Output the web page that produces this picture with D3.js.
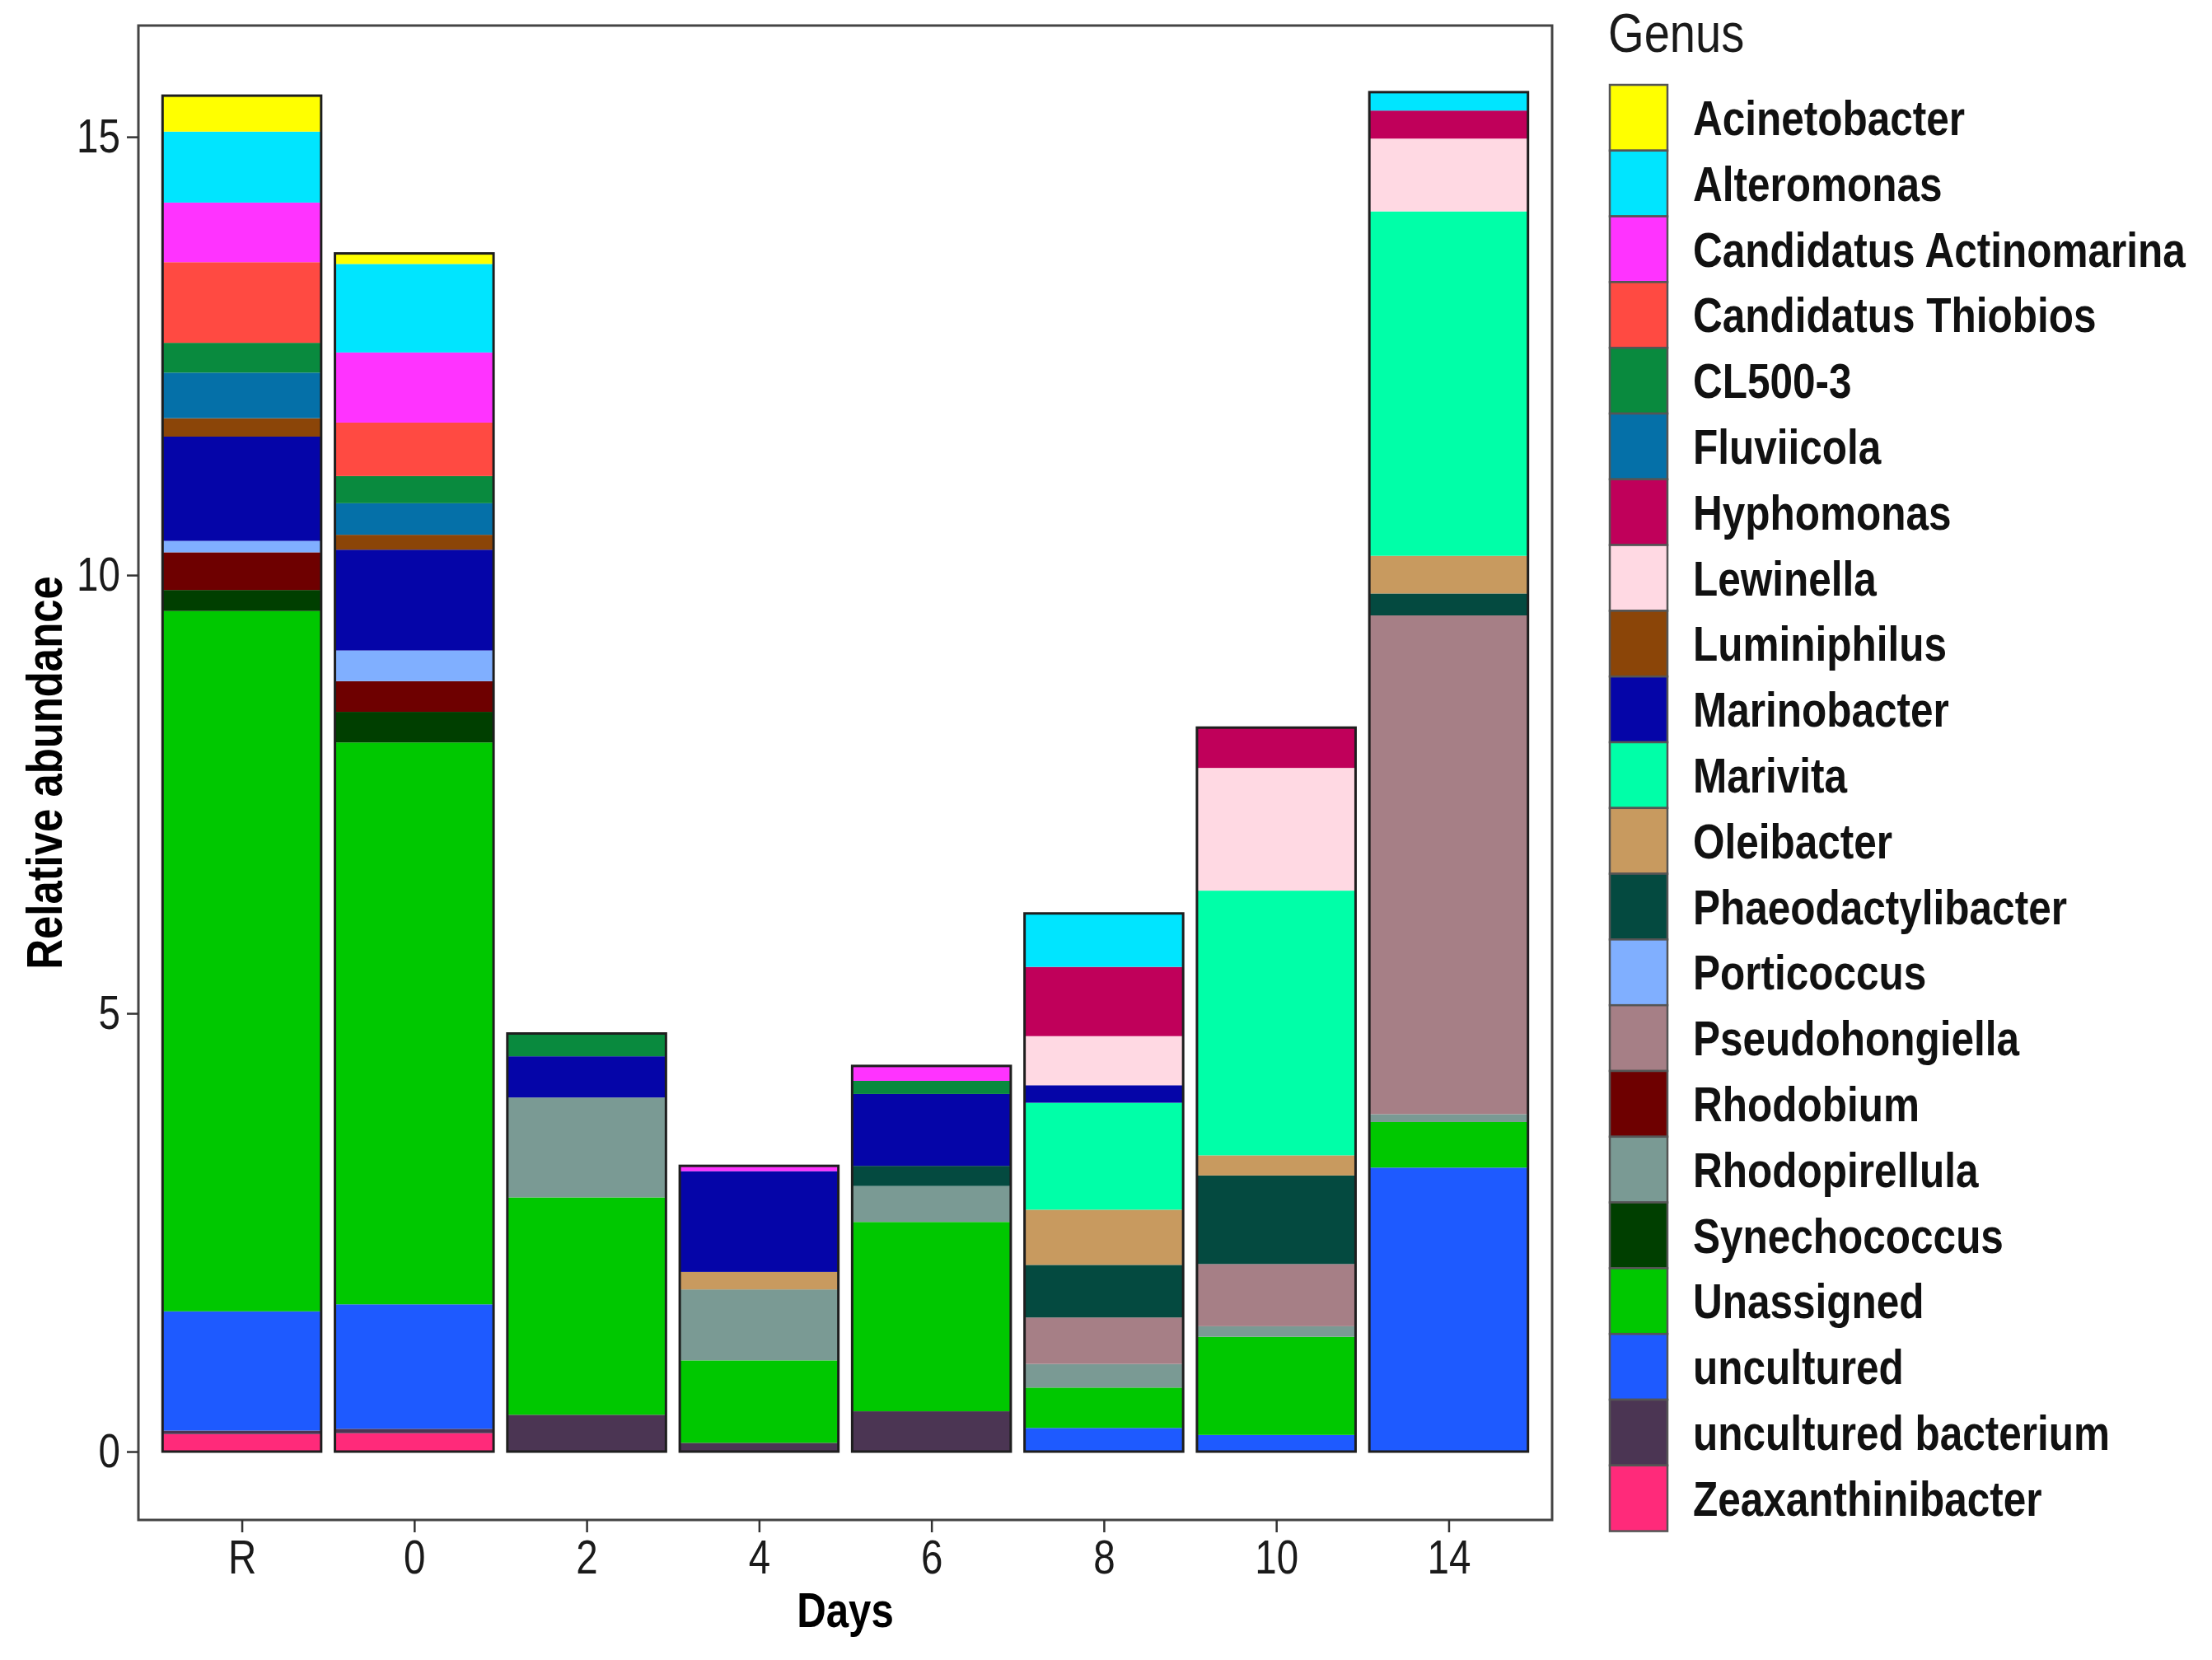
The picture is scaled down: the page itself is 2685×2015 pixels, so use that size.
<!DOCTYPE html>
<html><head><meta charset="utf-8">
<script src="https://cdn.jsdelivr.net/npm/d3@7"></script>
<style>html,body{margin:0;padding:0;background:#fff;} svg{display:block;}</style>
</head><body>
<svg id="chart" width="2685" height="2015"></svg>
<script>
// ---------- data ----------
const days = ["R","0","2","4","6","8","10","14"];
const genera = ["Acinetobacter","Alteromonas","Candidatus Actinomarina","Candidatus Thiobios","CL500-3","Fluviicola","Hyphomonas","Lewinella","Luminiphilus","Marinobacter","Marivita","Oleibacter","Phaeodactylibacter","Porticoccus","Pseudohongiella","Rhodobium","Rhodopirellula","Synechococcus","Unassigned","uncultured","uncultured bacterium","Zeaxanthinibacter"];
const colors = ["#FFFF00","#00E5FF","#FF33FF","#FF4A42","#098A3E","#0570A8","#C0005A","#FFD9E3","#8B4508","#0505A8","#00FFA8","#C89A5F","#044A40","#80AFFF","#A67F86","#6E0000","#7A9A94","#003F00","#00C800","#1E5AFF","#4B3553","#FF2A7A"];
// values per genus, in the order of days
const acinetobacter        = [0.41,0.12,0,0,0,0,0,0];
const alteromonas          = [0.81,1.01,0,0,0,0.61,0,0.21];
const actinomarina         = [0.68,0.80,0,0.06,0.17,0,0,0];
const thiobios             = [0.92,0.61,0,0,0,0,0,0];
const cl500_3              = [0.34,0.31,0.26,0,0.15,0,0,0];
const fluviicola           = [0.52,0.36,0,0,0,0,0,0];
const hyphomonas           = [0,0,0,0,0,0.79,0.46,0.32];
const lewinella            = [0,0,0,0,0,0.56,1.40,0.83];
const luminiphilus         = [0.21,0.17,0,0,0,0,0,0];
const marinobacter         = [1.19,1.15,0.47,1.15,0.82,0.20,0,0];
const marivita             = [0,0,0,0,0,1.22,3.02,3.93];
const oleibacter           = [0,0,0,0.20,0,0.63,0.23,0.43];
const phaeodactylibacter   = [0,0,0,0,0.23,0.60,1.01,0.25];
const porticoccus          = [0.13,0.35,0,0,0,0,0,0];
const pseudohongiella      = [0,0,0,0,0,0.53,0.71,5.69];
const rhodobium            = [0.43,0.35,0,0,0,0,0,0];
const rhodopirellula       = [0,0,1.14,0.81,0.41,0.27,0.12,0.09];
const synechococcus        = [0.24,0.35,0,0,0,0,0,0];
const unassigned           = [7.99,6.41,2.48,0.94,2.16,0.46,1.12,0.52];
const uncultured           = [1.36,1.42,0,0,0,0.27,0.19,3.24];
const unculturedBacterium  = [0.04,0.05,0.42,0.10,0.46,0,0,0];
const zeaxanthinibacter    = [0.20,0.21,0,0,0,0,0,0];
const series = [acinetobacter,alteromonas,actinomarina,thiobios,cl500_3,fluviicola,hyphomonas,lewinella,luminiphilus,marinobacter,marivita,oleibacter,phaeodactylibacter,porticoccus,pseudohongiella,rhodobium,rhodopirellula,synechococcus,unassigned,uncultured,unculturedBacterium,zeaxanthinibacter];
const yTicks = [0,5,10,15];
const xTitle = "Days", yTitle = "Relative abundance", legendTitle = "Genus";

// ---------- layout ----------
const FONT = "'Liberation Sans', Arial, Helvetica, sans-serif";
const SX = 0.82; // horizontal condensation of text
const svg = d3.select("#chart");
const P = {x0:168, x1:1884, y0:31, y1:1845};

const x = d3.scalePoint().domain(days).range([P.x0, P.x1]).padding(0.6);
const y = d3.scaleLinear().domain([-0.78, 16.27]).range([P.y1, P.y0]);
const barW = x.step() * 0.92;
const color = d3.scaleOrdinal().domain(genera).range(colors);

svg.append("rect").attr("width",2685).attr("height",2015).attr("fill","#fff");

// table & stack (first legend entry on top)
const table = days.map((d,i) => { const o = {day:d}; genera.forEach((g,j) => o[g] = series[j][i]); return o; });
const stacked = d3.stack().keys(genera.slice().reverse())(table);

const gBars = svg.append("g");
stacked.forEach(layer => {
  gBars.selectAll(null).data(layer.filter(d => d[1] - d[0] > 0)).enter().append("rect")
    .attr("x", d => x(d.data.day) - barW/2)
    .attr("width", barW)
    .attr("y", d => y(d[1]))
    .attr("height", d => y(d[0]) - y(d[1]))
    .attr("fill", color(layer.key));
});
// bar outlines
svg.append("g").selectAll("rect").data(table).enter().append("rect")
  .attr("x", d => x(d.day) - barW/2)
  .attr("width", barW)
  .attr("y", d => y(d3.sum(genera, g => d[g])))
  .attr("height", d => y(0) - y(d3.sum(genera, g => d[g])))
  .attr("fill","none").attr("stroke","#1e1e1e").attr("stroke-width",3);

// panel border
svg.append("rect").attr("x",P.x0).attr("y",P.y0).attr("width",P.x1-P.x0).attr("height",P.y1-P.y0)
  .attr("fill","none").attr("stroke","#444").attr("stroke-width",3);

// y axis
const gy = svg.append("g").attr("transform",`translate(${P.x0},0)`)
  .call(d3.axisLeft(y).tickValues(yTicks).tickSize(14).tickPadding(13).tickFormat(d3.format("d")));
gy.select(".domain").remove();
gy.selectAll(".tick line").attr("stroke","#333").attr("stroke-width",2.5);
gy.selectAll(".tick text").attr("font-family",FONT).attr("font-size",58).attr("fill","#1a1a1a")
  .attr("transform",`scale(${SX},1)`);

// x axis
const gx = svg.append("g").attr("transform",`translate(0,${P.y1})`)
  .call(d3.axisBottom(x).tickSize(15).tickPadding(9));
gx.select(".domain").remove();
gx.selectAll(".tick line").attr("stroke","#333").attr("stroke-width",2.5);
gx.selectAll(".tick text").attr("font-family",FONT).attr("font-size",58).attr("fill","#1a1a1a")
  .attr("transform",`scale(${SX},1)`);

// axis titles
svg.append("text").attr("transform",`translate(${(P.x0+P.x1)/2},1975) scale(${SX},1)`)
  .attr("text-anchor","middle").attr("font-family",FONT).attr("font-weight","bold")
  .attr("font-size",60).text(xTitle);
svg.append("text").attr("transform",`translate(75,${(P.y0+P.y1)/2}) rotate(-90) scale(${SX},1)`)
  .attr("text-anchor","middle").attr("font-family",FONT).attr("font-weight","bold")
  .attr("font-size",62).text(yTitle);

// legend
const L = {x:1954, y:103, key:70, row:79.8};
svg.append("text").attr("transform",`translate(${L.x-2},63) scale(0.85,1)`)
  .attr("font-family",FONT).attr("font-size",66).attr("fill","#1a1a1a").text(legendTitle);
const lg = svg.append("g").selectAll("g").data(genera).enter().append("g")
  .attr("transform",(d,i) => `translate(${L.x},${L.y + i*L.row})`);
lg.append("rect").attr("width",L.key).attr("height",L.row)
  .attr("fill", d => color(d)).attr("stroke","#555").attr("stroke-width",2.5);
lg.append("text").attr("transform",`translate(${2055-L.x},${L.row/2 + 21}) scale(0.825,1)`)
  .attr("font-family",FONT).attr("font-weight","bold").attr("font-size",60).attr("fill","#111")
  .text(d => d);
</script>
</body></html>
